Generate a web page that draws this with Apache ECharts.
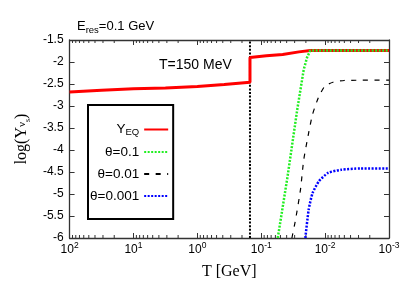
<!DOCTYPE html>
<html><head><meta charset="utf-8">
<script src="https://cdn.jsdelivr.net/npm/echarts@6/dist/echarts.min.js"></script>
<style>html,body{margin:0;padding:0;background:#fff}#c{width:409px;height:286px}</style>
</head><body><div id="c"></div>
<script>
// ---- data ----
const seriesNames = ['Y_EQ', 'θ=0.1', 'θ=0.01', 'θ=0.001'];
const xRange = [0.001, 100];          // T [GeV], log axis, reversed
const yRange = [-6, -1.5];
const yInterval = 0.5;
const transitionT = 0.15;             // T = 150 MeV

const eqT = [100, 31.6, 10, 3.16, 1, 0.38, 0.15, 0.15, 0.083, 0.0462, 0.0257, 0.0171, 0.001];
const eqY = [-2.68, -2.64, -2.61, -2.59, -2.555, -2.51, -2.46, -1.90, -1.86, -1.83, -1.77, -1.74, -1.74];

const t1T = [0.0551, 0.0387, 0.0325, 0.0273, 0.0216, 0.0192, 0.0171, 0.001];
const t1Y = [-6, -4.6, -3.84, -3.08, -2.17, -1.9, -1.74, -1.74];

const t2T = [0.0331, 0.0290, 0.0243, 0.0216, 0.0181, 0.0158, 0.01276, 0.01012, 0.00753, 0.00502, 0.001];
const t2Y = [-6, -5.58, -4.9, -4.22, -3.61, -3.2, -2.81, -2.55, -2.46, -2.42, -2.41];

const t3T = [0.0204, 0.0181, 0.01574, 0.0125, 0.00897, 0.00564, 0.00279, 0.001];
const t3Y = [-6, -5.36, -4.98, -4.71, -4.52, -4.45, -4.42, -4.42];

const minorTicks = [
  0.002, 0.003, 0.004, 0.005, 0.006, 0.007, 0.008, 0.009,
  0.02, 0.03, 0.04, 0.05, 0.06, 0.07, 0.08, 0.09,
  0.2, 0.3, 0.4, 0.5, 0.6, 0.7, 0.8, 0.9,
  2, 3, 4, 5, 6, 7, 8, 9,
  20, 30, 40, 50, 60, 70, 80, 90
];

// ---- chart ----
const zip = (xs, ys) => xs.map((x, i) => [x, ys[i]]);
const chart = echarts.init(document.getElementById('c'), null, {renderer: 'canvas'});
const sans = 'Liberation Sans, Arial, sans-serif';
const serif = 'Liberation Serif, Times New Roman, serif';
const frame = '#333';

const xCommon = {
  type: 'log', logBase: 10, min: xRange[0], max: xRange[1], inverse: true,
  axisLine: {show: true, lineStyle: {color: frame, width: 1.3}},
  axisTick: {show: true, inside: true, length: 5, lineStyle: {color: frame}},
  splitLine: {show: false}
};
const yCommon = {
  type: 'value', min: yRange[0], max: yRange[1], interval: yInterval,
  axisLine: {show: true, lineStyle: {color: frame, width: 1.3}},
  axisTick: {show: true, inside: true, length: 5, lineStyle: {color: frame}},
  splitLine: {show: false}
};

chart.setOption({
  animation: false,
  backgroundColor: '#fff',
  grid: {left: 61, right: 20, top: 40, bottom: 48},
  title: {
    text: '{a|E}{b|res}{a|=0.1 GeV}',
    left: 72, top: 15,
    textStyle: {
      fontWeight: 'normal',
      rich: {
        a: {fontFamily: sans, fontSize: 13, fontWeight: 'normal', color: '#000', verticalAlign: 'top', lineHeight: 15},
        b: {fontFamily: sans, fontSize: 9.5, fontWeight: 'normal', color: '#000', verticalAlign: 'bottom', lineHeight: 10, padding: [9, 0, 0, 0]}
      }
    }
  },
  graphic: [{
    type: 'text', left: 159, top: 58,
    style: {text: 'T=150 MeV', font: '14px ' + sans, fill: '#000'}
  }],
  legend: {
    data: seriesNames,
    orient: 'vertical', align: 'right',
    left: 88, top: 105,
    padding: [16, 4, 16, 2],
    itemWidth: 24, itemHeight: 14, itemGap: 8,
    borderColor: '#000', borderWidth: 2, borderRadius: 0,
    backgroundColor: '#fff',
    selectedMode: false,
    itemStyle: {opacity: 0, borderWidth: 0, color: 'rgba(0,0,0,0)'},
    formatter: n => n === 'Y_EQ' ? '{a|Y}{b|EQ}' : n,
    textStyle: {
      fontFamily: sans, fontSize: 13.5, color: '#000',
      rich: {
        a: {fontFamily: sans, fontSize: 13.5, color: '#000', verticalAlign: 'top', lineHeight: 15},
        b: {fontFamily: sans, fontSize: 9.5, color: '#000', verticalAlign: 'bottom', lineHeight: 10, padding: [6, 0, 0, 0]}
      }
    }
  },
  xAxis: [
    Object.assign({}, xCommon, {
      position: 'bottom',
      name: 'T [GeV]', nameLocation: 'middle', nameGap: 26,
      nameTextStyle: {fontFamily: serif, fontSize: 16, color: '#000'},
      axisLabel: {
        margin: 3,
        formatter: v => '{b|10}{s|' + Math.round(Math.log10(v)) + '}',
        rich: {
          b: {fontFamily: sans, fontSize: 12, color: '#000', verticalAlign: 'bottom', lineHeight: 15},
          s: {fontFamily: sans, fontSize: 8.5, color: '#000', verticalAlign: 'top', lineHeight: 9}
        }
      }
    }),
    Object.assign({}, xCommon, {position: 'top', axisLabel: {show: false}})
  ],
  yAxis: [
    Object.assign({}, yCommon, {
      position: 'left',
      name: '{a|log(Y}{b|ν}{c|s}{a|)}', nameLocation: 'middle', nameRotate: 90, nameGap: 28,
      nameTextStyle: {
        rich: {
          a: {fontFamily: serif, fontSize: 16, color: '#000', verticalAlign: 'top', lineHeight: 18},
          b: {fontFamily: serif, fontSize: 11, color: '#000', verticalAlign: 'bottom', lineHeight: 12, padding: [0, 0, 4, 0]},
          c: {fontFamily: serif, fontSize: 8, color: '#000', verticalAlign: 'bottom', lineHeight: 8, padding: [16, 0, 0, 0]}
        }
      },
      axisLabel: {margin: 6, fontFamily: sans, fontSize: 12, color: '#000'}
    }),
    Object.assign({}, yCommon, {position: 'right', axisLabel: {show: false}})
  ],
  series: [
    {
      name: 'minor', type: 'custom', silent: true, z: 1,
      data: minorTicks.map(v => [v]),
      renderItem: (params, api) => {
        const v = api.value(0);
        const b = api.coord([v, yRange[0]]);
        const t = api.coord([v, yRange[1]]);
        const st = {stroke: frame, lineWidth: 1};
        return {type: 'group', children: [
          {type: 'line', shape: {x1: b[0], y1: b[1], x2: b[0], y2: b[1] - 3}, style: st},
          {type: 'line', shape: {x1: t[0], y1: t[1], x2: t[0], y2: t[1] + 3}, style: st}
        ]};
      }
    },
    {
      name: 'T=150 MeV', type: 'line', symbol: 'none', silent: true, z: 2,
      data: [[transitionT, yRange[0]], [transitionT, yRange[1]]],
      lineStyle: {color: '#000', width: 2, type: [2, 1.6]}
    },
    {
      name: seriesNames[0], type: 'line', symbol: 'none', z: 3,
      data: zip(eqT, eqY), color: '#ff0000',
      lineStyle: {color: '#ff0000', width: 3}
    },
    {
      name: seriesNames[1], type: 'line', symbol: 'none', z: 4,
      data: zip(t1T, t1Y), color: '#22ee22',
      lineStyle: {color: '#22ee22', width: 2.5, type: [2, 1.5]}
    },
    {
      name: seriesNames[2], type: 'line', symbol: 'none', z: 4, smooth: 0.2,
      data: zip(t2T, t2Y), color: '#000',
      lineStyle: {color: '#000', width: 1.2, type: [5, 6.5]}
    },
    {
      name: seriesNames[3], type: 'line', symbol: 'none', z: 4, smooth: 0.2,
      data: zip(t3T, t3Y), color: '#0000ff',
      lineStyle: {color: '#0000ff', width: 2.5, type: [2, 1.5]}
    }
  ]
});
</script>
</body></html>
